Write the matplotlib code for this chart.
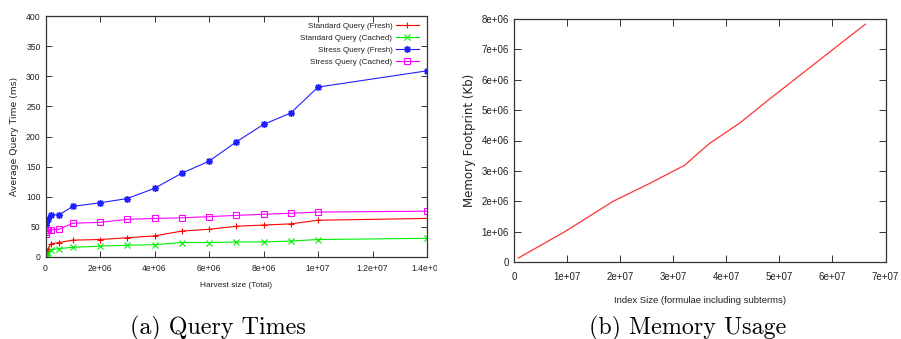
import matplotlib
matplotlib.use("Agg")
import matplotlib.pyplot as plt
from matplotlib.transforms import Bbox, TransformedBbox, Affine2D

# ---- data: (a) Query Times ----
harvest_size = [0, 1e4, 5e4, 1e5, 2e5, 5e5, 1e6, 2e6, 3e6, 4e6, 5e6, 6e6, 7e6, 8e6, 9e6, 1e7, 1.4e7]
std_fresh = [3, 6, 10, 14, 22, 24, 28, 29, 32, 35, 43, 46, 51, 53, 55, 61, 64]
std_cached = [1, 3, 4, 7, 12, 14, 16, 18, 19.5, 20.5, 24, 24, 25, 25, 26.5, 29, 31]
stress_fresh = [53, 57, 61, 63, 70, 70, 84, 90, 97, 114, 139, 159, 191, 220, 239, 282, 309]
stress_cached = [38, 41, 44, 45, 45, 46, 56, 57.5, 62.5, 64, 65, 67, 69, 71, 72.5, 74.6, 76]
series_labels = ["Standard Query (Fresh)", "Standard Query (Cached)",
                 "Stress Query (Fresh)", "Stress Query (Cached)"]
a_xticks = [0, 2e6, 4e6, 6e6, 8e6, 1e7, 1.2e7, 1.4e7]
a_xticklabels = ["0", "2e+06", "4e+06", "6e+06", "8e+06", "1e+07", "1.2e+07", "1.4e+07"]
a_yticks = [0, 50, 100, 150, 200, 250, 300, 350, 400]

# ---- data: (b) Memory Usage ----
index_size = [0.8e6, 0.96e7, 1.87e7, 2.56e7, 3.22e7, 3.45e7, 3.69e7, 4.25e7, 4.79e7, 6.62e7]
memory_kb = [1.3e5, 1.0e6, 2.0e6, 2.59e6, 3.19e6, 3.55e6, 3.91e6, 4.57e6, 5.33e6, 7.83e6]
b_xticks = [0, 1e7, 2e7, 3e7, 4e7, 5e7, 6e7, 7e7]
b_xticklabels = ["0", "1e+07", "2e+07", "3e+07", "4e+07", "5e+07", "6e+07", "7e+07"]
b_yticks = [0, 1e6, 2e6, 3e6, 4e6, 5e6, 6e6, 7e6, 8e6]
b_yticklabels = ["0", "1e+06", "2e+06", "3e+06", "4e+06", "5e+06", "6e+06", "7e+06", "8e+06"]

W, H = 901, 339
fig = plt.figure(figsize=(W / 100, H / 100), dpi=100)
pix = Affine2D().scale(1 / W, -1 / H).translate(0, 1) + fig.transFigure
tickfont = ['Liberation Sans', 'DejaVu Sans']
edge = '#333333'
txt = '#222222'

def px_axes(l, t, r, b):
    return fig.add_axes([l / W, 1 - b / H, (r - l) / W, (b - t) / H])

def style(ax, tsize, tlen, xpad, ypad):
    for s in ax.spines.values():
        s.set_color(edge)
        s.set_linewidth(0.9)
    ax.tick_params(direction='in', top=True, right=True, length=tlen, width=0.7,
                   color=edge, labelsize=tsize, labelcolor=txt)
    ax.tick_params(axis='x', pad=xpad)
    ax.tick_params(axis='y', pad=ypad)
    for lbl in ax.get_xticklabels() + ax.get_yticklabels():
        lbl.set_family(tickfont)

# ---- (a) ----
ax1 = px_axes(45.5, 16, 427, 257)
colors = ['#ff0000', '#00ee00', '#2020ff', '#ff00ff']
ax1.plot(harvest_size, std_fresh, color=colors[0], lw=0.8, marker='+', ms=5, mew=0.8, label=series_labels[0])
ax1.plot(harvest_size, std_cached, color=colors[1], lw=0.8, marker='x', ms=4, mew=0.8, label=series_labels[1])
ax1.plot(harvest_size, stress_fresh, color=colors[2], lw=0.8, marker=(8, 2, 0), ms=5, mew=1.0, label=series_labels[2])
ax1.plot(harvest_size, stress_cached, color=colors[3], lw=0.8, marker='s', ms=4.5, mfc='none', mew=0.8, label=series_labels[3])
ax1.set_xlim(0, 1.4e7)
ax1.set_ylim(0, 400)
ax1.set_xticks(a_xticks)
ax1.set_xticklabels(a_xticklabels)
ax1.set_yticks(a_yticks)
style(ax1, 6.2, 4, 5, 3.5)
ax1.set_xlabel("Harvest size (Total)", fontsize=6.0, family=tickfont, color=txt)
ax1.xaxis.set_label_coords(236, 282, transform=pix)
ax1.set_ylabel("Average Query Time (ms)", fontsize=6.7, color=txt)
ax1.yaxis.set_label_coords(19, 136, transform=pix)
leg = ax1.legend(loc='upper right', bbox_to_anchor=(419 / W, 1 - 22 / H), bbox_transform=fig.transFigure,
                 frameon=False, markerfirst=False, handlelength=2.9, handletextpad=0.4,
                 labelspacing=0.55, borderpad=0, borderaxespad=0, prop={'family': tickfont, 'size': 5.8})
for t in leg.get_texts():
    t.set_color(txt)
clipbox = TransformedBbox(Bbox([[0, 0], [437 / W, 1]]), fig.transFigure)
for lbl in ax1.get_xticklabels():
    lbl.set_clip_box(clipbox)
    lbl.set_clip_on(True)

# ---- (b) ----
ax2 = px_axes(514, 19, 885.5, 262)
ax2.plot(index_size, memory_kb, color='#ff3333', lw=0.9)
ax2.set_xlim(0, 7e7)
ax2.set_ylim(0, 8e6)
ax2.set_xticks(b_xticks)
ax2.set_xticklabels(b_xticklabels)
ax2.set_yticks(b_yticks)
ax2.set_yticklabels(b_yticklabels)
style(ax2, 7.0, 5, 7.5, 3.5)
ax2.set_xlabel("Index Size (formulae including subterms)", fontsize=6.8, family=tickfont, color=txt)
ax2.xaxis.set_label_coords(700, 296, transform=pix)
ax2.set_ylabel("Memory Footprint (Kb)", fontsize=8.5, color=txt)
ax2.yaxis.set_label_coords(476, 140, transform=pix)

# ---- captions ----
fig.text(218 / W, 1 - 328 / H, "(a) Query Times", ha='center', va='center', fontsize=17.3, family='cmr10')
fig.text(688 / W, 1 - 328 / H, "(b) Memory Usage", ha='center', va='center', fontsize=17.3, family='cmr10')

fig.savefig("out.png", dpi=100)
